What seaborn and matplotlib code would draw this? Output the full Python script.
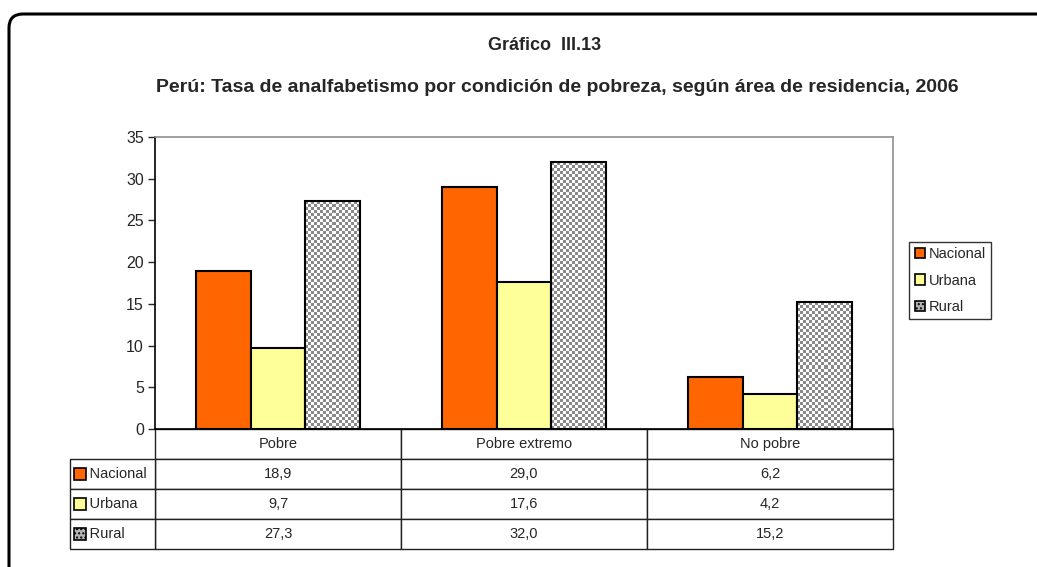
import numpy as np
import pandas as pd
import matplotlib
matplotlib.use("Agg")
import matplotlib.pyplot as plt
import seaborn as sns
from matplotlib.patches import Patch, Rectangle, FancyBboxPatch
from matplotlib.table import Table
from matplotlib.transforms import IdentityTransform

# datos
categorias = ["Pobre", "Pobre extremo", "No pobre"]
areas = ["Nacional", "Urbana", "Rural"]
nacional = [18.9, 29.0, 6.2]
urbana = [9.7, 17.6, 4.2]
rural = [27.3, 32.0, 15.2]
colores = {"Nacional": "#FF6600", "Urbana": "#FFFF99", "Rural": "#FFFFFF"}

titulo = "Gráfico  III.13"
subtitulo = "Perú: Tasa de analfabetismo por condición de pobreza, según área de residencia, 2006"

df = pd.DataFrame({
    "categoria": categorias * 3,
    "area": [a for a in areas for _ in categorias],
    "valor": nacional + urbana + rural,
})

sns.set_style("white")
plt.rcParams["font.family"] = ["Liberation Sans", "DejaVu Sans"]

fig = plt.figure(figsize=(10.37, 5.67), dpi=100)
ax = fig.add_axes([0.1495, 0.2434, 0.7116, 0.515])

sns.barplot(data=df, x="categoria", y="valor", hue="area", order=categorias,
            hue_order=areas, palette=colores, saturation=1, width=0.67,
            edgecolor="black", linewidth=1.5, legend=False, ax=ax)

# textura de cuadritos para Rural
for bar in ax.containers[2]:
    x0, y0 = bar.get_x(), bar.get_y()
    w, h = bar.get_width(), bar.get_height()
    ny = max(2, int(round(h / 35 * 292 / 3)))
    nx = 18
    checker = (np.indices((ny, nx)).sum(axis=0) % 2).astype(float)
    im = ax.imshow(checker, cmap=matplotlib.colors.ListedColormap(["#8a8a8a", "#ffffff"]),
                   extent=[x0, x0 + w, y0, y0 + h], aspect="auto",
                   interpolation="nearest", zorder=bar.get_zorder() - 0.01)
    im.set_clip_path(bar)
    bar.set_facecolor("none")

ax.set_xlim(-0.5, 2.5)
ax.set_ylim(0, 35)
ax.set_yticks(range(0, 36, 5))
ax.set_xticks([])
ax.set_xlabel("")
ax.set_ylabel("")
ax.tick_params(axis="y", length=5, width=1, direction="out", left=True, labelsize=11.5, pad=3)
for s in ["left", "bottom"]:
    ax.spines[s].set_color("black")
    ax.spines[s].set_linewidth(1.2)
for s in ["top", "right"]:
    ax.spines[s].set_color("#909090")
    ax.spines[s].set_linewidth(1.2)

# tabla de datos
tb_h = 0.411
lab_w = 0.115
rh = tb_h / 4
tb = Table(ax, bbox=[0, -tb_h, 1, tb_h])
for j, cat in enumerate(categorias):
    tb.add_cell(0, j, width=1 / 3, height=rh, text=cat, loc="center")
series = [nacional, urbana, rural]
for i, vals in enumerate(series):
    for j, v in enumerate(vals):
        tb.add_cell(i + 1, j, width=1 / 3, height=rh, text=f"{v:.1f}".replace(".", ","), loc="center")

# columna de etiquetas
tl = Table(ax, bbox=[-lab_w, -tb_h, lab_w, 3 * rh])
for i, nombre in enumerate(areas):
    tl.add_cell(i, 0, width=lab_w, height=rh, text="    " + nombre, loc="left")

for t in (tb, tl):
    t.auto_set_font_size(False)
    t.set_fontsize(10.5)
    for (r, c), cell in t.get_celld().items():
        cell.set_edgecolor("#222222")
        cell.set_linewidth(1.0)
        cell.PAD = 0.03
    ax.add_table(t)

# cuadritos de leyenda en la tabla
sw = 0.0165
for i, nombre in enumerate(areas):
    yc = -tb_h + (3 - i - 0.5) * rh
    fc = colores[nombre] if nombre != "Rural" else "#b5b5b5"
    ax.add_patch(Rectangle((-0.1098, yc - 0.02), sw, 0.04, transform=ax.transAxes,
                           facecolor=fc, edgecolor="black", linewidth=1.2,
                           hatch="...." if nombre == "Rural" else None, clip_on=False))

# leyenda
handles = [Patch(facecolor=colores["Nacional"], edgecolor="black", linewidth=1.2),
           Patch(facecolor=colores["Urbana"], edgecolor="black", linewidth=1.2),
           Patch(facecolor="#b5b5b5", edgecolor="black", linewidth=1.2, hatch="....")]
leg = fig.legend(handles, areas, loc="upper left", bbox_to_anchor=(0.877, 0.573),
                 frameon=True, fancybox=False, fontsize=10.5, handlelength=0.75,
                 handleheight=0.75, handletextpad=0.25, labelspacing=0.85,
                 borderpad=0.35, borderaxespad=0)
leg.get_frame().set_edgecolor("black")
leg.get_frame().set_linewidth(1.0)

# titulos
fig.text(0.525, 0.919, titulo, ha="center", va="center", fontsize=13, fontweight="bold")
fig.text(0.537, 0.846, subtitulo, ha="center", va="center", fontsize=14, fontweight="bold")

# marco redondeado
marco = FancyBboxPatch((9, -40), 1200, 567 - 14 + 40, boxstyle="round,pad=0,rounding_size=14",
                       transform=IdentityTransform(), facecolor="none", edgecolor="black",
                       linewidth=2.2)
fig.patches.append(marco)

fig.savefig("out.png", dpi=100)
